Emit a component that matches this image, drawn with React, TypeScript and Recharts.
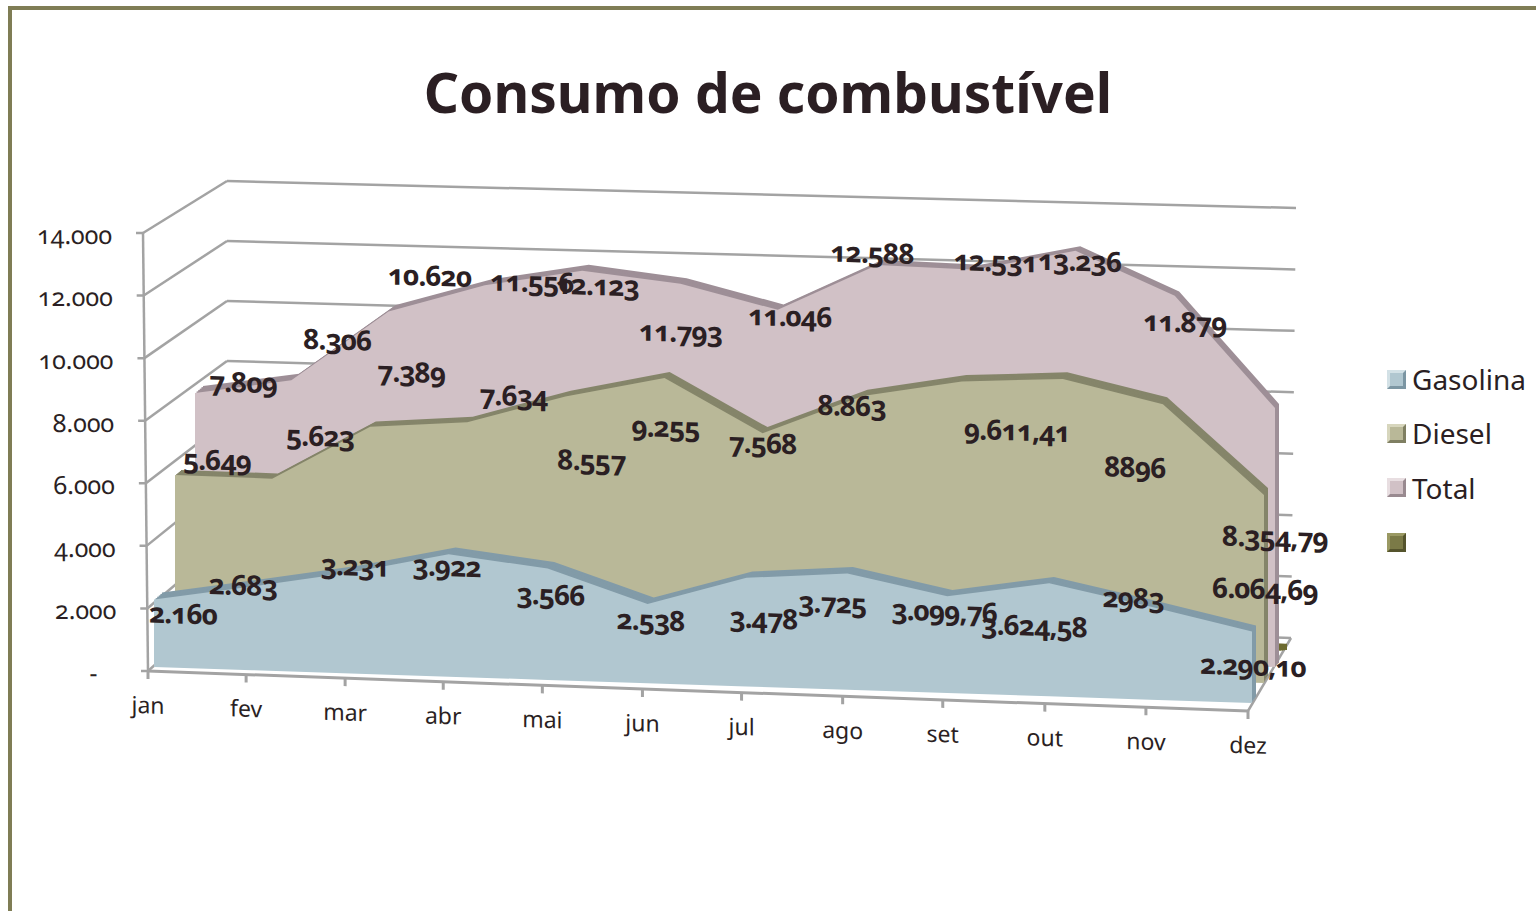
import { AreaChart, Area, LineChart, Line, XAxis, YAxis, LabelList, ComposedChart, ReferenceLine } from "recharts";

const meses = ["jan", "fev", "mar", "abr", "mai", "jun", "jul", "ago", "set", "out", "nov", "dez"];
const gasolina = [2160, 2683, 3231, 3922, 3566, 2538, 3478, 3725, 3099.76, 3624.58, 2983, 2290.1];
const diesel = [5649, 5623, 7389, 7634, 8557, 9255, 7568, 8863, 9431, 9611.41, 8896, 6064.69];
const total = [7809, 8306, 10620, 11556, 12123, 11793, 11046, 12588, 12531, 13236, 11879, 8354.79];
const semNome = [200, 200, 200, 200, 200, 200, 200, 200, 200, 200, 200, 200];

const rotulosGasolina = ["2.160", "2.683", "3.231", "3.922", "3.566", "2.538", "3.478", "3.725", "3.099,76", "3.624,58", "2983", "2.290,10"];
const rotulosDiesel = ["5.649", "5.623", "7.389", "7.634", "8.557", "9.255", "7.568", "8.863", "", "9.611,41", "8896", "6.064,69"];
const rotulosTotal = ["7.809", "8.306", "10.620", "11.556", "12.123", "11.793", "11.046", "12.588", "12.531", "13.236", "11.879", "8.354,79"];

const yTicks = [0, 2000, 4000, 6000, 8000, 10000, 12000, 14000];
const yMax = 14000;

// posicao de cada mes no eixo: a perspectiva abre um pouco o espaco para a direita
const posMes = [0, 0.0892, 0.1792, 0.2684, 0.3585, 0.4495, 0.5396, 0.6315, 0.7225, 0.8153, 0.9072, 1];

const tabela = meses.map((mes, i) => ({
  mes,
  pos: posMes[i],
  gasolina: gasolina[i],
  diesel: diesel[i],
  total: total[i],
  semNome: semNome[i],
}));

// ajuste manual dos rotulos (o grafico original tem os rotulos fora do ponto)
const ajusteGasolina = [[29, 14], [-9, 0], [4, -6], [-2, 13], [3, 27], [3, 17], [17, 41], [-15, 31], [-3, 16], [-15, 44], [-17, -7], [1, 35]];
const ajusteDiesel = [[42, -15], [48, -43], [41, -55], [46, -27], [26, 64], [1, 50], [0, 11], [-11, 11], [0, 0], [-46, 54], [-28, 65], [1, 95]];
const ajusteTotal = [[48, -11], [46, -41], [41, -36], [47, -4], [15, 15], [0, 49], [12, 7], [-5, -11], [20, -8], [4, 11], [10, 27], [0, 130]];

const FONTE = "'Noto Sans', sans-serif";
const TEXTO = "#2b1f23";
const CINZA = "#a3a3a3";
const NUMEROS = { fontFeatureSettings: '"onum"' };

interface Plano { x0: number; x1: number; baseE: number; baseD: number; alt: number; }

const m = 160;

function transformar(p: Plano) {
  const w = p.x1 - p.x0;
  const s = (p.baseD - p.baseE) / w;
  const tx = p.x0 - m;
  const ty = p.baseE - s * m - m - p.alt;
  return { w, transform: `matrix(1, ${s}, 0, 1, ${tx}, ${ty})` };
}

function misturar(a: Plano, b: Plano, t: number): Plano {
  return {
    x0: a.x0 + (b.x0 - a.x0) * t,
    x1: a.x1 + (b.x1 - a.x1) * t,
    baseE: a.baseE + (b.baseE - a.baseE) * t,
    baseD: a.baseD + (b.baseD - a.baseD) * t,
    alt: a.alt,
  };
}

function Camada({ plano, children }: { plano: Plano; children: any }) {
  const { w, transform } = transformar(plano);
  return (
    <div style={{ position: "absolute", left: 0, top: 0, transformOrigin: "0 0", transform }}>
      <AreaChart width={w + 2 * m} height={plano.alt + 2 * m} data={tabela} margin={{ top: m, right: m, bottom: m, left: m }}>
        <XAxis dataKey="pos" type="number" domain={[0, 1]} hide />
        <YAxis hide domain={[0, yMax]} />
        {children}
      </AreaChart>
    </div>
  );
}

function Serie({ chave, frente, fundo, cor, corTopo }: { chave: string; frente: Plano; fundo: Plano; cor: string; corTopo: string }) {
  const passos = [1, 0.8, 0.6, 0.4, 0.2, 0];
  return (
    <>
      {passos.map((t) => (
        <Camada key={t} plano={misturar(frente, fundo, t)}>
          <Area type="linear" dataKey={chave} stroke="none" fill={t === 0 ? cor : corTopo} fillOpacity={1} dot={false} activeDot={false} isAnimationActive={false} />
        </Camada>
      ))}
    </>
  );
}

function Rotulos({ chave, plano, textos, ajuste }: { chave: string; plano: Plano; textos: string[]; ajuste: number[][] }) {
  return (
    <Camada plano={plano}>
      <Area type="linear" dataKey={chave} stroke="none" fill="none" dot={false} activeDot={false} isAnimationActive={false}>
        <LabelList
          dataKey={chave}
          content={(props: any) => {
            const i = props.index;
            if (!textos[i]) return null;
            const px = props.x ?? props.viewBox?.x;
            const py = props.y ?? props.viewBox?.y;
            return (
              <text x={px + ajuste[i][0]} y={py + ajuste[i][1] - 2} textAnchor="middle" dominantBaseline="central" fontFamily={FONTE} fontWeight={700} fontSize={28} letterSpacing={-1} fill={TEXTO} style={NUMEROS}>
                {textos[i]}
              </text>
            );
          }}
        />
      </Area>
    </Camada>
  );
}

const gasolinaFrente: Plano = { x0: 154, x1: 1252, baseE: 667, baseD: 703, alt: 437 };
const gasolinaFundo: Plano = { x0: 162, x1: 1256, baseE: 660, baseD: 697, alt: 437 };
const dieselFrente: Plano = { x0: 175, x1: 1264, baseE: 650, baseD: 683, alt: 434 };
const dieselFundo: Plano = { x0: 181, x1: 1268, baseE: 645, baseD: 676, alt: 434 };
const totalFrente: Plano = { x0: 195, x1: 1275, baseE: 635, baseD: 667, alt: 434 };
const totalFundo: Plano = { x0: 203, x1: 1279, baseE: 628, baseD: 663, alt: 434 };
const semNomeFrente: Plano = { x0: 215, x1: 1277, baseE: 612, baseD: 651, alt: 434 };
const semNomeFundo: Plano = { x0: 220, x1: 1287, baseE: 610, baseD: 650, alt: 434 };

// paredes do grafico 3D
function Paredes() {
  const nivel = (a: number[], b: number[], v: number) => {
    const t = v / yMax;
    return { x: a[0] + (b[0] - a[0]) * t, y: a[1] + (b[1] - a[1]) * t };
  };
  const trechos: { x: number; y: number }[][] = [];
  for (const v of yTicks) {
    const p1 = nivel([148, 671], [143, 233], v);
    const p2 = nivel([227, 601], [227, 181], v);
    const p3 = nivel([1291, 638], [1296, 208], v);
    trechos.push([p1, p2], [p2, p3]);
  }
  trechos.push([{ x: 1248, y: 711 }, { x: 1291, y: 638 }]);
  return (
    <div style={{ position: "absolute", left: 0, top: 0 }}>
      <ComposedChart width={1536} height={911} data={[{ x: 0, y: 0 }, { x: 1536, y: 911 }]} margin={{ top: 0, right: 0, bottom: 0, left: 0 }}>
        <XAxis dataKey="x" type="number" domain={[0, 1536]} hide />
        <YAxis dataKey="y" type="number" domain={[0, 911]} reversed hide />
        <Line dataKey="y" stroke="none" dot={false} activeDot={false} isAnimationActive={false} />
        {trechos.map((seg, i) => (
          <ReferenceLine key={i} segment={seg} stroke={CINZA} strokeWidth={2.5} />
        ))}
      </ComposedChart>
    </div>
  );
}

function EixoX() {
  const s = 40 / 1100;
  return (
    <div style={{ position: "absolute", left: 0, top: 0, transformOrigin: "0 0", transform: `matrix(1, ${s}, 0, 1, 48, ${671 - 140 - s * 100})` }}>
      <LineChart width={1300} height={200} data={tabela} margin={{ top: 100, right: 100, bottom: 0, left: 100 }}>
        <XAxis
          dataKey="pos"
          type="number"
          domain={[0, 1]}
          ticks={posMes}
          height={60}
          interval={0}
          tickSize={8}
          tickMargin={18}
          stroke={CINZA}
          strokeWidth={3}
          tick={{ fontSize: 23, fill: TEXTO, fontFamily: FONTE }}
          tickFormatter={(v) => meses[posMes.indexOf(Number(v))]}
        />
        <Line dataKey="total" stroke="none" dot={false} activeDot={false} isAnimationActive={false} />
      </LineChart>
    </div>
  );
}

function EixoY() {
  const c = 5 / 438;
  return (
    <div style={{ position: "absolute", left: 0, top: 0, transformOrigin: "0 0", transform: `matrix(1, 0, ${c}, 1, ${3 - c * 50}, 183)` }}>
      <LineChart width={260} height={538} data={tabela} margin={{ top: 50, right: 20, bottom: 50, left: 0 }}>
        <XAxis dataKey="mes" hide />
        <YAxis
          width={140}
          domain={[0, yMax]}
          ticks={yTicks}
          interval={0}
          tickSize={7}
          tickMargin={24}
          stroke={CINZA}
          strokeWidth={2.5}
          tick={{ fontSize: 25, fill: TEXTO, fontFamily: FONTE, style: NUMEROS, dy: 2 }}
          tickFormatter={(v) => (Number(v) === 0 ? "-\u00a0\u00a0\u00a0" : Number(v).toLocaleString("pt-BR"))}
        />
        <Line dataKey="total" stroke="none" dot={false} activeDot={false} isAnimationActive={false} />
      </LineChart>
    </div>
  );
}

const legenda = [
  { nome: "Gasolina", cor: "#b1c7d0", claro: "#d3e1e6", escuro: "#7c96a3" },
  { nome: "Diesel", cor: "#b9b898", claro: "#d7d6bd", escuro: "#7f7f62" },
  { nome: "Total", cor: "#d1c1c6", claro: "#e8dee1", escuro: "#998a90" },
  { nome: "", cor: "#7b7a47", claro: "#9a9963", escuro: "#55542d" },
];

export default function App() {
  return (
    <div style={{ position: "absolute", left: 0, top: 0, width: 1536, height: 911, background: "#fff", overflow: "hidden", fontFamily: FONTE }}>
      <div style={{ position: "absolute", left: 8, top: 6, width: 1600, height: 1000, borderTop: "4px solid #7f7d55", borderLeft: "4px solid #7f7d55" }} />
      <div style={{ position: "absolute", left: 0, width: 1536, top: 52, textAlign: "center", fontSize: 55, lineHeight: "80px", fontWeight: 700, color: TEXTO }}>
        Consumo de combustível
      </div>

      <Paredes />
      <EixoY />
      <EixoX />

      <Serie chave="semNome" frente={semNomeFrente} fundo={semNomeFundo} cor="#6e6b30" corTopo="#6e6b30" />
      <Serie chave="total" frente={totalFrente} fundo={totalFundo} cor="#d1c1c6" corTopo="#9e8f97" />
      <Serie chave="diesel" frente={dieselFrente} fundo={dieselFundo} cor="#b9b898" corTopo="#85856a" />
      <Serie chave="gasolina" frente={gasolinaFrente} fundo={gasolinaFundo} cor="#b1c7d0" corTopo="#829ba8" />

      <Rotulos chave="total" plano={totalFrente} textos={rotulosTotal} ajuste={ajusteTotal} />
      <Rotulos chave="diesel" plano={dieselFrente} textos={rotulosDiesel} ajuste={ajusteDiesel} />
      <Rotulos chave="gasolina" plano={gasolinaFrente} textos={rotulosGasolina} ajuste={ajusteGasolina} />

      {legenda.map((item, i) => (
        <div key={i} style={{ position: "absolute", left: 1387, top: 361 + i * 54.4, height: 36, display: "flex", alignItems: "center", color: TEXTO, fontSize: 28 }}>
          <span
            style={{
              display: "inline-block",
              boxSizing: "border-box",
              width: 19,
              height: 19,
              background: item.cor,
              borderStyle: "solid",
              borderWidth: 3,
              borderColor: `${item.claro} ${item.escuro} ${item.escuro} ${item.claro}`,
              marginRight: 6,
            }}
          />
          {item.nome}
        </div>
      ))}
    </div>
  );
}
